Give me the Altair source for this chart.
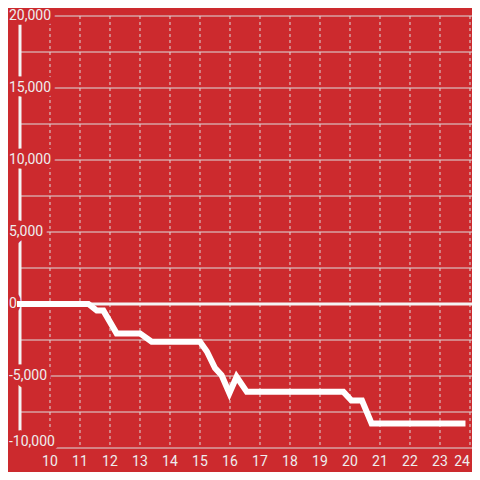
import altair as alt
import pandas as pd

# data series
line_x = [9.0, 11.28, 11.56, 11.78, 12.22, 13.0, 13.39, 15.0, 15.23, 15.5, 15.72, 15.98, 16.22, 16.56, 19.78, 20.05, 20.4, 20.72, 23.75]
line_y = [0, 0, -460, -460, -2040, -2040, -2620, -2620, -3300, -4450, -4950, -6200, -5050, -6100, -6100, -6700, -6700, -8300, -8300]

x_ticks = list(range(10, 25))
y_grid = list(range(-10000, 20001, 2500))
y_labels = [-10000, -5000, 0, 5000, 10000, 15000, 20000]
y_label_text = ["-10,000", "-5,000", "0", "5,000", "10,000", "15,000", "20,000"]

BG = "#cc2a2e"
FG = "#eeeeee"
GRID = "#dddddd"
FONT = "Roboto"

XD = [9.0, 24.067]
YD = [-10000, 20000]
xs = alt.Scale(domain=XD, nice=False, zero=False)
ys = alt.Scale(domain=YD, nice=False, zero=False)

line_df = pd.DataFrame({"x": line_x, "y": line_y})
xt_df = pd.DataFrame({"x": x_ticks, "y": [-10000] * len(x_ticks), "t": [str(v) for v in x_ticks]})
yg_df = pd.DataFrame({"y": y_grid})
yl_df = pd.DataFrame({"y": y_labels, "t": y_label_text, "x": [9.0] * len(y_labels)})
zero_df = pd.DataFrame({"y": [0]})
axis_df = pd.DataFrame({"x": [9.0]})

X = alt.X("x:Q", scale=xs, axis=None)
Y = alt.Y("y:Q", scale=ys, axis=None)

hgrid = alt.Chart(yg_df).mark_rule(color=GRID, strokeWidth=1).encode(y=Y)
vgrid = alt.Chart(xt_df).mark_rule(color=GRID, strokeWidth=1, strokeDash=[3, 3]).encode(x=X)
zero = alt.Chart(zero_df).mark_rule(color="#f4f4f4", strokeWidth=3).encode(y=Y)
ybar = alt.Chart(axis_df).mark_rule(color="#f4f4f4", strokeWidth=3).encode(x=X)


def ylayer(dy, filt, **kw):
    return alt.Chart(yl_df).transform_filter(filt).mark_text(
        align="left", baseline="middle", dx=-11, dy=dy, font=FONT, fontSize=14, **kw
    ).encode(x=X, y=Y, text="t:N")


halo_kw = dict(fill=BG, stroke=BG, strokeWidth=9, strokeJoin="miter")
halo_a = ylayer(0, "datum.y > -10000", **halo_kw)
halo_b = ylayer(-6, "datum.y == -10000", **halo_kw)
ylab_a = ylayer(0, "datum.y > -10000", color=FG)
ylab_b = ylayer(-6, "datum.y == -10000", color=FG)

xlab_a = alt.Chart(xt_df).transform_filter("datum.x < 24").mark_text(
    align="center", baseline="middle", dy=14, font=FONT, fontSize=14, color=FG
).encode(x=X, y=Y, text="t:N")
xlab_b = alt.Chart(xt_df).transform_filter("datum.x == 24").mark_text(
    align="right", baseline="middle", dx=0, dy=14, font=FONT, fontSize=14, color=FG
).encode(x=X, y=Y, text="t:N")

line = alt.Chart(line_df).mark_line(
    color="white", strokeWidth=6, strokeCap="square", strokeJoin="miter"
).encode(x=X, y=Y)

chart = alt.layer(
    hgrid, vgrid, zero, ybar, halo_a, halo_b, ylab_a, ylab_b, line, xlab_a, xlab_b
).properties(
    width=452, height=432,
    background=BG,
    padding={"left": 12, "top": 8, "right": 0, "bottom": 24},
    autosize=alt.AutoSizeParams(type="none"),
).configure_view(stroke=None)

chart.save("out.html", embed_options={"renderer": "svg", "actions": False})
